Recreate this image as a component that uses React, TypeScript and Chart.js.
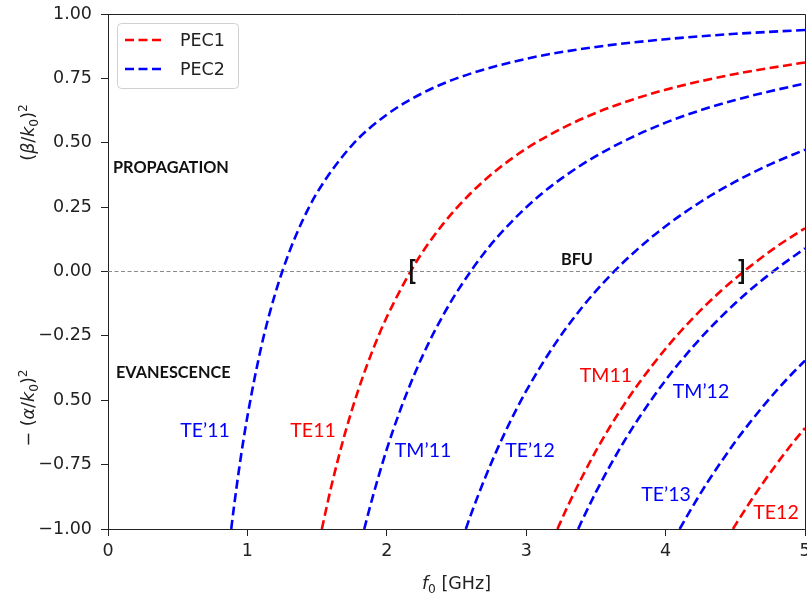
import React, { useEffect, useRef } from "react";
import { Chart, registerables } from "chart.js";

Chart.register(...registerables);

// ---- axis ranges / ticks ----
const X_MIN = 0;
const X_MAX = 5;
const Y_MIN = -1;
const Y_MAX = 1;
const X_STEP = 1;
const Y_STEP = 0.25;

const RED = "#ff0000";
const BLUE = "#0000ff";

// ---- series (frequency in GHz, normalized value) ----
// PEC2 : TE'11
const te11p_f = [0.884, 0.9, 0.95, 1.0, 1.1, 1.2, 1.3, 1.4, 1.5, 1.75, 2.0, 2.25, 2.5, 3.0, 3.5, 4.0, 4.5, 5.0];
const te11p_v = [-1.0, -0.929, -0.731, -0.563, -0.291, -0.085, 0.075, 0.203, 0.306, 0.49, 0.609, 0.691, 0.75, 0.826, 0.872, 0.902, 0.923, 0.938];
// PEC1 : TE11
const te11_f = [1.534, 1.6, 1.7, 1.8, 1.9, 2.0, 2.2, 2.4, 2.6, 2.8, 3.0, 3.25, 3.5, 3.75, 4.0, 4.5, 5.0];
const te11_v = [-1.0, -0.839, -0.629, -0.453, -0.304, -0.177, 0.027, 0.182, 0.303, 0.399, 0.477, 0.554, 0.616, 0.665, 0.706, 0.767, 0.812];
// PEC2 : TM'11
const tm11p_f = [1.838, 1.9, 2.0, 2.1, 2.2, 2.3, 2.4, 2.5, 2.7, 2.9, 3.1, 3.3, 3.5, 3.75, 4.0, 4.25, 4.5, 4.75, 5.0];
const tm11p_v = [-1.0, -0.873, -0.69, -0.533, -0.397, -0.278, -0.174, -0.082, 0.073, 0.196, 0.297, 0.379, 0.448, 0.519, 0.578, 0.626, 0.666, 0.7, 0.73];
// PEC2 : TE'12
const te12p_f = [2.567, 2.6, 2.7, 2.8, 2.9, 3.0, 3.2, 3.4, 3.6, 3.8, 4.0, 4.25, 4.5, 4.75, 5.0];
const te12p_v = [-1.0, -0.949, -0.808, -0.681, -0.567, -0.464, -0.287, -0.14, -0.017, 0.087, 0.176, 0.27, 0.349, 0.416, 0.473];
// PEC1 : TM11
const tm11_f = [3.224, 3.3, 3.4, 3.5, 3.6, 3.7, 3.8, 4.0, 4.2, 4.4, 4.6, 4.8, 5.0];
const tm11_v = [-1.0, -0.909, -0.799, -0.697, -0.604, -0.519, -0.44, -0.3, -0.179, -0.074, 0.017, 0.098, 0.168];
// PEC2 : TM'12
const tm12p_f = [3.373, 3.4, 3.5, 3.6, 3.7, 3.8, 4.0, 4.2, 4.4, 4.6, 4.8, 5.0];
const tm12p_v = [-1.0, -0.968, -0.857, -0.756, -0.662, -0.576, -0.422, -0.29, -0.175, -0.075, 0.012, 0.09];
// PEC2 : TE'13
const te13p_f = [4.101, 4.2, 4.3, 4.4, 4.5, 4.6, 4.7, 4.8, 4.9, 5.0];
const te13p_v = [-1.0, -0.907, -0.819, -0.738, -0.661, -0.59, -0.523, -0.46, -0.401, -0.346];
// PEC1 : TE12
const te12_f = [4.483, 4.5, 4.6, 4.7, 4.8, 4.9, 5.0];
const te12_v = [-1.0, -0.985, -0.9, -0.82, -0.745, -0.674, -0.608];

// zero reference line
const zero_f = [0, 5];
const zero_v = [0, 0];

// legend entries
const LEGEND_LABELS = ["PEC1", "PEC2"];
const LEGEND_COLORS = [RED, BLUE];

// curve annotations: text, x, y, colour
const CURVE_LABELS: [string, number, number, string][] = [
  ["TE\u201911", 0.696, -0.62, BLUE],
  ["TE11", 1.471, -0.62, RED],
  ["TM\u201911", 2.26, -0.697, BLUE],
  ["TE\u201912", 3.027, -0.697, BLUE],
  ["TM11", 3.572, -0.406, RED],
  ["TM\u201912", 4.254, -0.468, BLUE],
  ["TE\u201913", 4.003, -0.868, BLUE],
  ["TE12", 4.792, -0.938, RED],
];

const zip = (xs: number[], ys: number[]) => xs.map((x, i) => ({ x, y: ys[i] }));

type Seg = { t: string; italic?: boolean; scale?: number; dy?: number };

function drawRich(ctx: CanvasRenderingContext2D, segs: Seg[], size: number, family: string, color: string) {
  const fontOf = (s: Seg) => `${s.italic ? "italic " : ""}${size * (s.scale || 1)}px ${family}`;
  let total = 0;
  const widths = segs.map((s) => {
    ctx.font = fontOf(s);
    const w = ctx.measureText(s.t).width;
    total += w;
    return w;
  });
  let x = -total / 2;
  ctx.fillStyle = color;
  ctx.textBaseline = "alphabetic";
  ctx.textAlign = "left";
  segs.forEach((s, i) => {
    ctx.font = fontOf(s);
    ctx.fillText(s.t, x, size * 0.36 + (s.dy || 0) * size);
    x += widths[i];
  });
}

const overlayPlugin = {
  id: "overlay",
  afterDraw(chart: any) {
    const ctx: CanvasRenderingContext2D = chart.ctx;
    const { left, right, top, bottom } = chart.chartArea;
    const xs = chart.scales.x;
    const ys = chart.scales.y;
    ctx.save();

    // frame (top and right spines)
    ctx.strokeStyle = "#222";
    ctx.lineWidth = 1;
    ctx.beginPath();
    ctx.moveTo(left, top + 0.5);
    ctx.lineTo(right + 0.5, top + 0.5);
    ctx.lineTo(right + 0.5, bottom);
    ctx.stroke();

    // region labels
    ctx.fillStyle = "#111";
    ctx.textBaseline = "middle";
    ctx.font = "bold 16.3px Lato";
    ctx.textAlign = "left";
    ctx.fillText("PROPAGATION", xs.getPixelForValue(0.036), ys.getPixelForValue(0.402));
    ctx.fillText("EVANESCENCE", xs.getPixelForValue(0.057), ys.getPixelForValue(-0.394));
    ctx.textAlign = "center";
    ctx.fillText("BFU", xs.getPixelForValue(3.364), ys.getPixelForValue(0.045));
    ctx.font = "bold 27px Lato";
    ctx.fillText("[", xs.getPixelForValue(2.181), ys.getPixelForValue(0.0));
    ctx.fillText("]", xs.getPixelForValue(4.548), ys.getPixelForValue(0.0));

    // curve labels
    ctx.font = "19.5px Lato";
    CURVE_LABELS.forEach(([t, x, y, c]) => {
      ctx.fillStyle = c;
      ctx.fillText(t, xs.getPixelForValue(x), ys.getPixelForValue(y));
    });

    // legend
    const lx = 117, ly = 23, lw = 121, lh = 65;
    ctx.beginPath();
    ctx.roundRect(lx + 0.5, ly + 0.5, lw, lh, 4);
    ctx.fillStyle = "rgba(255,255,255,0.85)";
    ctx.fill();
    ctx.strokeStyle = "#d0d0d0";
    ctx.lineWidth = 1;
    ctx.stroke();
    LEGEND_LABELS.forEach((lab, i) => {
      const yy = 40 + i * 29;
      ctx.strokeStyle = LEGEND_COLORS[i];
      ctx.lineWidth = 2.6;
      ctx.setLineDash([9, 4.5]);
      ctx.beginPath();
      ctx.moveTo(125, yy);
      ctx.lineTo(164, yy);
      ctx.stroke();
      ctx.setLineDash([]);
      ctx.fillStyle = "#222";
      ctx.font = "17.5px 'DejaVu Sans'";
      ctx.textAlign = "left";
      ctx.textBaseline = "middle";
      ctx.fillText(lab, 180, yy + 1);
    });

    // y axis titles
    const fam = "'DejaVu Sans'";
    ctx.save();
    ctx.translate(left - 80, ys.getPixelForValue(0.54));
    ctx.rotate(-Math.PI / 2);
    drawRich(ctx, [
      { t: "(" },
      { t: "\u03B2", italic: true },
      { t: "/" },
      { t: "k", italic: true },
      { t: "0", scale: 0.7, dy: 0.22 },
      { t: ")" },
      { t: "2", scale: 0.7, dy: -0.42 },
    ], 17.5, fam, "#222");
    ctx.restore();

    ctx.save();
    ctx.translate(left - 80, ys.getPixelForValue(-0.53));
    ctx.rotate(-Math.PI / 2);
    drawRich(ctx, [
      { t: "\u2212 (" },
      { t: "\u03B1", italic: true },
      { t: "/" },
      { t: "k", italic: true },
      { t: "0", scale: 0.7, dy: 0.22 },
      { t: ")" },
      { t: "2", scale: 0.7, dy: -0.42 },
    ], 17.5, fam, "#222");
    ctx.restore();

    // x axis title
    ctx.save();
    ctx.translate((left + right) / 2, bottom + 54);
    drawRich(ctx, [
      { t: "f", italic: true },
      { t: "0", scale: 0.7, dy: 0.22 },
      { t: " [GHz]" },
    ], 17.5, fam, "#222");
    ctx.restore();

    ctx.restore();
  },
};

export default function App() {
  const ref = useRef<HTMLCanvasElement | null>(null);

  useEffect(() => {
    if (!ref.current) return;
    const curve = (data: { x: number; y: number }[], color: string) => ({
      data,
      borderColor: color,
      backgroundColor: color,
      borderWidth: 2.6,
      borderDash: [9, 4.5],
      pointRadius: 0,
      fill: false,
      cubicInterpolationMode: "monotone" as const,
    });
    const chart = new Chart(ref.current, {
      type: "line",
      data: {
        datasets: [
          {
            data: zip(zero_f, zero_v),
            borderColor: "#8a8a8a",
            borderWidth: 1,
            borderDash: [4, 2.5],
            pointRadius: 0,
            fill: false,
          },
          curve(zip(te11p_f, te11p_v), BLUE),
          curve(zip(te11_f, te11_v), RED),
          curve(zip(tm11p_f, tm11p_v), BLUE),
          curve(zip(te12p_f, te12p_v), BLUE),
          curve(zip(tm11_f, tm11_v), RED),
          curve(zip(tm12p_f, tm12p_v), BLUE),
          curve(zip(te13p_f, te13p_v), BLUE),
          curve(zip(te12_f, te12_v), RED),
        ],
      },
      options: {
        responsive: false,
        animation: false,
        devicePixelRatio: 1,
        layout: { padding: { top: 14, right: 2, left: 0, bottom: 0 } },
        plugins: { legend: { display: false }, tooltip: { enabled: false } },
        scales: {
          x: {
            type: "linear",
            min: X_MIN,
            max: X_MAX,
            ticks: {
              stepSize: X_STEP,
              color: "#222",
              font: { family: "'DejaVu Sans'", size: 17.5 },
              padding: 5,
              maxRotation: 0,
              callback: (v: any) => String(v),
            },
            grid: { drawOnChartArea: false, drawTicks: true, tickLength: 7, color: "#222" },
            border: { display: true, color: "#222", width: 1 },
            afterFit: (s: any) => {
              s.height = 68;
              s.paddingLeft = 0;
              s.paddingRight = 0;
            },
          },
          y: {
            type: "linear",
            min: Y_MIN,
            max: Y_MAX,
            ticks: {
              stepSize: Y_STEP,
              color: "#222",
              font: { family: "'DejaVu Sans'", size: 17.5 },
              padding: 9,
              callback: (v: any) => {
                const n = Number(v);
                if (Math.abs(n + 0.5) < 1e-9) return "0.50";
                return (n < -1e-9 ? "\u2212" : "") + Math.abs(n).toFixed(2);
              },
            },
            grid: { drawOnChartArea: false, drawTicks: true, tickLength: 7, color: "#222" },
            border: { display: true, color: "#222", width: 1 },
            afterFit: (s: any) => {
              s.width = 108;
              s.paddingTop = 0;
              s.paddingBottom = 0;
            },
          },
        },
      },
      plugins: [overlayPlugin],
    });
    return () => chart.destroy();
  }, []);

  return (
    <div style={{ position: "fixed", left: 0, top: 0, width: 807, height: 597, background: "#fff" }}>
      <canvas ref={ref} width={807} height={597} style={{ width: 807, height: 597, display: "block" }} />
    </div>
  );
}
